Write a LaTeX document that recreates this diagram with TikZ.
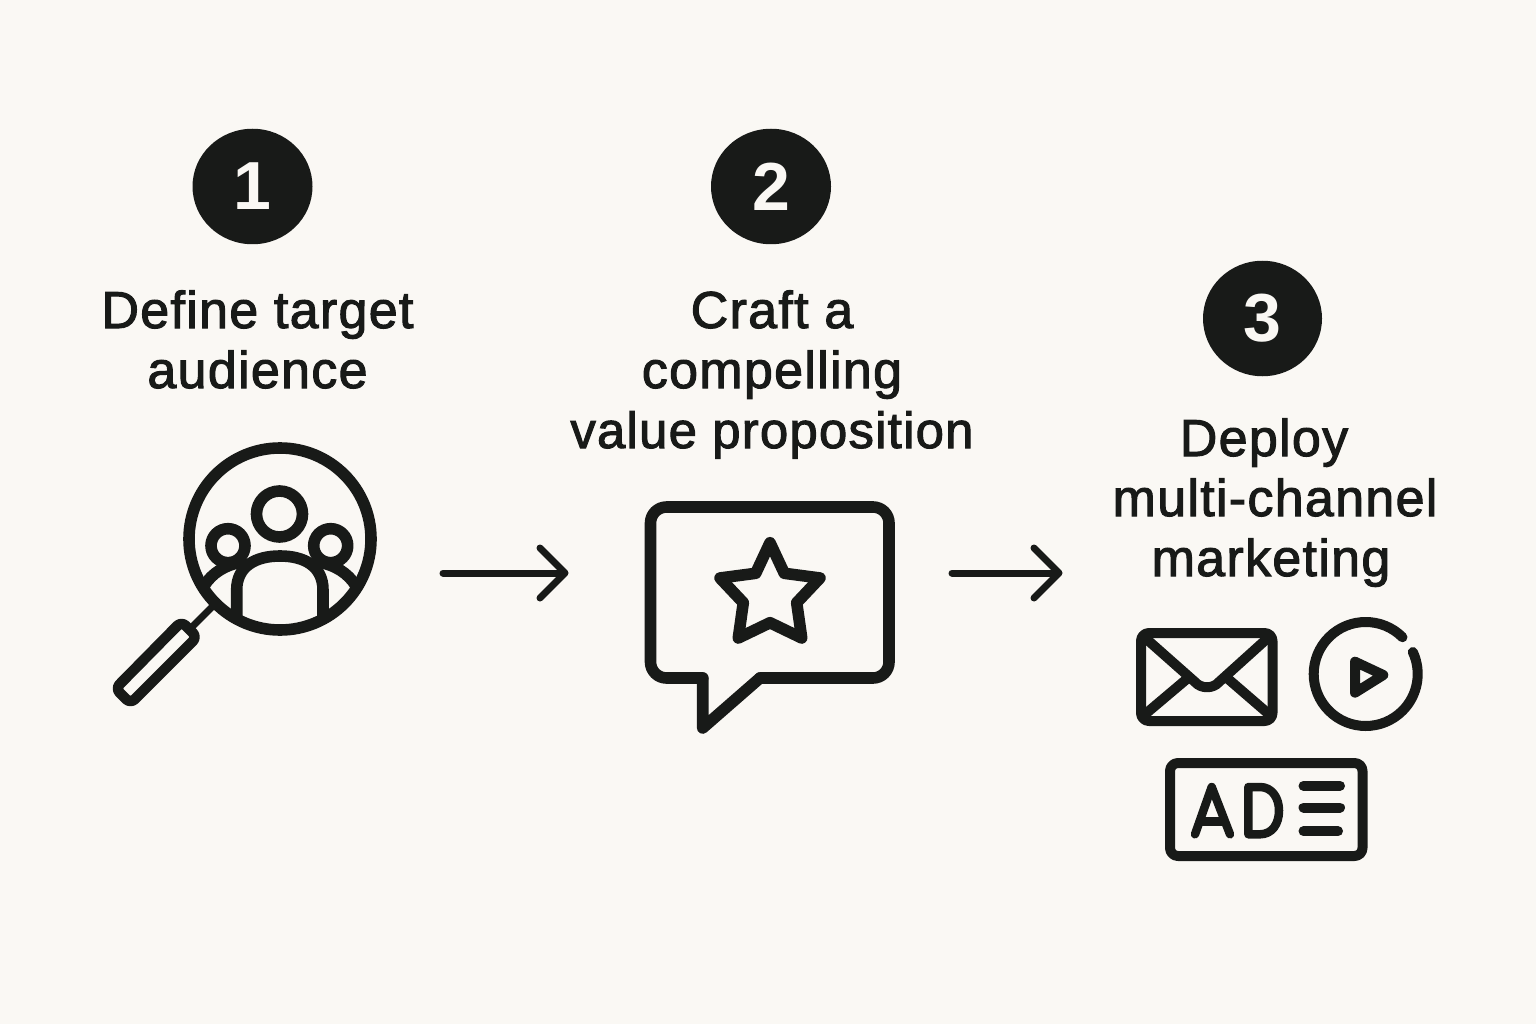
\documentclass[tikz,border=0pt]{standalone}
\usepackage{fontspec}
\setmainfont{Liberation Sans}[LetterSpace=2.5,FakeBold=2]
\newfontfamily\digitfont{Liberation Sans}[BoldFont={Liberation Sans Bold}]
\usetikzlibrary{arrows.meta,shapes.geometric}
\definecolor{ink}{HTML}{181A18}
\definecolor{paper}{HTML}{FAF8F4}
\tikzset{
  badge/.style={ellipse,fill=ink,text=paper,minimum width=120pt,minimum height=115.5pt,inner sep=0pt,font=\digitfont\bfseries\fontsize{68}{68}\selectfont},
  steplabel/.style={align=center,text=ink,inner sep=0pt,font=\fontsize{52}{60}\selectfont},
  iconline/.style={draw=ink,line width=11.6pt,line join=round,line cap=round},
  iconthin/.style={draw=ink,line width=10pt,line join=round,line cap=round},
  flowarrow/.style={draw=ink,line width=7pt,line cap=round,-{Straight Barb[length=25pt,width=50pt,round,line width=7pt]}},
}
\begin{document}
\begin{tikzpicture}[x=1pt,y=-1pt]
\useasboundingbox[fill=paper] (0,0) rectangle (1536,1024);

% badges
\node[badge] (b1) at (252.5,186.5) {1};
\node[badge] (b2) at (771,186.5) {2};
\node[badge,minimum width=119pt] (b3) at (1262.5,318.5) {3};

% labels
\node[steplabel,anchor=base] (l1) at (257.5,388) {Define target\\audience};
\node[steplabel,anchor=base] (l2) at (772,448) {Craft a\\compelling\\{\fontsize{50.8}{60}\selectfont value proposition}};
\node[steplabel,anchor=base] (l3) at (1271,576) {\hspace*{-14pt}Deploy\\\hspace*{8pt}multi-channel\\marketing};

% magnifier with people
\draw[iconline] (280,539) circle[radius=91];
\draw[iconline] (279.5,514) circle[radius=23];
\draw[iconline] (228,545.7) circle[radius=17];
\draw[iconline] (330.7,545.7) circle[radius=17];
\draw[iconline,line cap=butt] (236.7,618) -- (236.7,590) .. controls (236.7,566) and (256,556) .. (280,556) .. controls (304,556) and (323,566) .. (323,590) -- (323,618);
\draw[iconline,line cap=butt] (204,586) .. controls (212,573) and (225,565) .. (242,562);
\draw[iconline,line cap=butt] (356,586) .. controls (348,573) and (335,565) .. (318,562);
\draw[draw=ink,line width=7pt] (213,606) -- (192,627);
\draw[draw=ink,line width=10.5pt,line join=round,rounded corners=6pt] (181.5,621.5) -- (197,637) -- (130.5,703.5) -- (115.5,688.5) -- cycle;

% arrows
\coordinate (a1s) at (443,573); \coordinate (a1e) at (568.5,573);
\coordinate (a2s) at (952,573); \coordinate (a2e) at (1062.5,573);
\draw[flowarrow] (a1s) -- (a1e);
\draw[flowarrow] (a2s) -- (a2e);

% speech bubble
\draw[iconline,rounded corners=16pt] (702.7,678) -- (650.5,678) -- (650.5,507) -- (889,507) -- (889,678) -- (760,678);
\draw[iconline] (702.7,678) -- (702.7,728) -- (760,678);
% star
\draw[iconline] (770,542.7) -- (784.3,573.3) -- (820,578) -- (796.7,602.7) -- (801.7,638) -- (770,622.7) -- (738.3,638) -- (743.3,602.7) -- (720,578) -- (755.7,573.3) -- cycle;

% envelope
\draw[iconthin,rounded corners=8pt] (1141,633) rectangle (1272.5,721);
\draw[iconthin] (1143,636) -- (1195,682) .. controls (1201,689) and (1213,689) .. (1219,682) -- (1270,636);
\draw[iconthin] (1188,678) -- (1143,716);
\draw[iconthin] (1227,678) -- (1271,716);

% play icon
\draw[iconthin] (1365.7,674) ++(-45:52) arc[start angle=-45,end angle=-385,radius=52];
\draw[iconthin] (1355,661.7) -- (1383.3,675) -- (1355,692.7) -- cycle;

% ad box
\draw[iconthin,rounded corners=8pt] (1170,763) rectangle (1362.5,856);
\draw[iconthin,line width=8.5pt] (1195,834.3) -- (1211.7,787) -- (1230,834.3);
\draw[iconthin,line width=8.5pt] (1201,821.7) -- (1224,821.7);
\draw[iconthin,line width=8.5pt] (1248.3,787) -- (1260,787) .. controls (1272,787) and (1279,798) .. (1279,810.5) .. controls (1279,824) and (1272,834.3) .. (1260,834.3) -- (1248.3,834.3) -- cycle;
\draw[iconthin] (1303.5,785.7) -- (1340,785.7);
\draw[iconthin] (1303.5,807.5) -- (1340,807.5);
\draw[iconthin] (1303.5,831.3) -- (1338,831.3);
\end{tikzpicture}
\end{document}
